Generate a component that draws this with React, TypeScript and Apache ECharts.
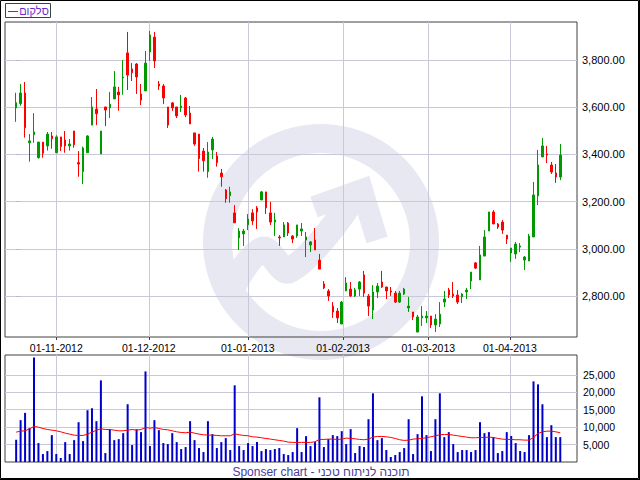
import React, { useEffect, useRef } from 'react';
import * as echarts from 'echarts';

// ---- Data ----
const opens = [
  3597, 3615, 3660, 3449, 3483, 3386, 3452, 3436, 3478, 3407,
  3474, 3461, 3436, 3499, 3365, 3327, 3407, 3524, 3592, 3402,
  3601, 3597, 3635, 3664, 3724, 3830, 3762, 3783, 3656, 3669,
  3834, 3897, 3698, 3690, 3601, 3618, 3601, 3597, 3639, 3575,
  3491, 3486, 3414, 3327, 3419, 3393, 3321, 3249, 3225, 3152,
  3046, 3063, 3102, 3152, 3173, 3207, 3241, 3152, 3113, 3050,
  3050, 3109, 3054, 3054, 3075, 3037, 3016, 3037, 2952, 2851,
  2821, 2757, 2736, 2681, 2821, 2829, 2800, 2829, 2889, 2800,
  2740, 2817, 2859, 2838, 2821, 2812, 2774, 2808, 2749, 2732,
  2647, 2707, 2707, 2715, 2677, 2681, 2774, 2825, 2808, 2804,
  2796, 2817, 2863, 2940, 2868, 2969, 3075, 3156, 3105, 3113,
  3058, 2982, 2978, 3007, 2952, 2948, 3050, 3224, 3389, 3402,
  3355, 3321, 3304,
];
const closes = [
  3619, 3660, 3513, 3457, 3495, 3452, 3405, 3486, 3466, 3474,
  3433, 3436, 3444, 3441, 3359, 3427, 3478, 3601, 3572, 3499,
  3588, 3613, 3686, 3652, 3728, 3736, 3746, 3728, 3630, 3787,
  3906, 3796, 3690, 3639, 3524, 3597, 3563, 3605, 3567, 3529,
  3444, 3382, 3373, 3410, 3465, 3365, 3305, 3212, 3241, 3110,
  3075, 3075, 3126, 3118, 3156, 3241, 3173, 3113, 3122, 3046,
  3101, 3067, 3041, 3101, 3084, 3050, 3029, 2995, 2914, 2834,
  2800, 2732, 2707, 2774, 2855, 2800, 2825, 2859, 2812, 2757,
  2817, 2842, 2838, 2821, 2817, 2774, 2812, 2829, 2757, 2711,
  2711, 2715, 2715, 2677, 2702, 2723, 2787, 2804, 2800, 2774,
  2808, 2825, 2901, 2918, 2974, 3050, 3156, 3105, 3092, 3079,
  3041, 3003, 3020, 3012, 2965, 3054, 3228, 3355, 3436, 3397,
  3325, 3304, 3397,
];
const lows = [
  3538, 3606, 3471, 3369, 3449, 3382, 3386, 3416, 3424, 3405,
  3414, 3407, 3416, 3428, 3305, 3274, 3407, 3524, 3524, 3402,
  3520, 3554, 3635, 3585, 3653, 3673, 3711, 3656, 3609, 3669,
  3796, 3766, 3673, 3613, 3512, 3584, 3554, 3580, 3558, 3529,
  3436, 3327, 3327, 3301, 3380, 3348, 3263, 3195, 3195, 3110,
  2995, 3012, 3079, 3101, 3084, 3207, 3147, 3101, 3054, 3012,
  3050, 3054, 3024, 3046, 3054, 2965, 2986, 2995, 2914, 2829,
  2779, 2707, 2685, 2681, 2821, 2796, 2796, 2800, 2796, 2715,
  2702, 2791, 2834, 2787, 2800, 2770, 2770, 2804, 2732, 2698,
  2647, 2673, 2685, 2664, 2647, 2668, 2753, 2791, 2791, 2766,
  2770, 2787, 2829, 2914, 2868, 2969, 3075, 3105, 3084, 3063,
  3020, 2944, 2957, 2986, 2910, 2948, 3050, 3185, 3389, 3363,
  3317, 3279, 3291,
];
const highs = [
  3661, 3698, 3707, 3486, 3575, 3452, 3452, 3495, 3495, 3481,
  3474, 3499, 3465, 3499, 3414, 3433, 3481, 3643, 3677, 3499,
  3601, 3664, 3753, 3686, 3800, 3919, 3787, 3787, 3698, 3838,
  3923, 3919, 3711, 3698, 3601, 3622, 3601, 3652, 3643, 3605,
  3491, 3486, 3427, 3452, 3474, 3410, 3338, 3253, 3263, 3185,
  3088, 3084, 3147, 3168, 3181, 3245, 3241, 3198, 3152, 3058,
  3113, 3113, 3058, 3101, 3109, 3071, 3033, 3088, 2978, 2863,
  2829, 2774, 2749, 2779, 2880, 2859, 2834, 2863, 2906, 2808,
  2846, 2855, 2906, 2838, 2838, 2821, 2821, 2834, 2796, 2732,
  2719, 2757, 2736, 2715, 2723, 2774, 2821, 2834, 2859, 2825,
  2812, 2834, 2901, 2944, 3012, 3079, 3156, 3164, 3109, 3122,
  3058, 3003, 3029, 3024, 2969, 3063, 3283, 3419, 3469, 3436,
  3368, 3359, 3444,
];
const volumes = [
  6380, 12000, 14090, 9710, 29990, 5430, 2285, 3140, 7710, 2285,
  1140, 5710, 2285, 6280, 11420, 6000, 14850, 15420, 11710, 23420,
  2570, 9425, 6280, 6570, 8280, 16560, 4855, 9425, 8570, 25990,
  4570, 12000, 9140, 5430, 5140, 8280, 5710, 3710, 4285, 11710,
  6280, 4000, 2855, 11710, 8000, 4000, 5710, 6855, 3430, 22000,
  4570, 3430, 5430, 4570, 5710, 3140, 3710, 3430, 3710, 4000,
  2285, 2000, 2855, 9710, 2855, 7425, 4570, 5710, 18560, 4285,
  6570, 7710, 7425, 8855, 5140, 9425, 2570, 4570, 4285, 12280,
  19700, 6280, 6855, 3430, 1430, 2000, 2855, 4000, 12280, 2285,
  8000, 18850, 7710, 3140, 12280, 19700, 7140, 8570, 5140, 2855,
  3430, 3430, 2855, 3430, 11420, 8280, 8570, 7140, 2570, 3140,
  8570, 7425, 5430, 3140, 2855, 7710, 23130, 22280, 16560, 7140,
  10570, 7140, 7140,
];
const volumeAvg = [
  8570, 8850, 8950, 9520, 10190, 10000, 9615, 9330, 9140, 8950,
  8660, 8280, 8000, 7710, 7620, 7620, 8000, 8570, 9140, 9520,
  9330, 9330, 9140, 8950, 8950, 9140, 9330, 9140, 9330, 9900,
  9710, 9900, 9615, 9330, 9235, 8950, 8660, 8470, 8380, 8570,
  8280, 8000, 7810, 7710, 7710, 7620, 7520, 7520, 7520, 8090,
  7810, 7620, 7520, 7235, 7140, 6950, 6760, 6570, 6380, 6190,
  6000, 5710, 5620, 5620, 5620, 5620, 5620, 5810, 6470, 6470,
  6570, 6570, 6470, 6570, 6855, 6760, 6660, 6470, 6380, 6570,
  7140, 7330, 7330, 7235, 7045, 6760, 6380, 6190, 6280, 6570,
  6660, 6760, 6950, 7235, 7520, 7810, 7900, 7900, 7710, 7520,
  7330, 7140, 6950, 6950, 7045, 7045, 7140, 7045, 6760, 6570,
  6470, 6470, 6380, 6380, 6280, 6280, 7045, 8190, 8660, 8850,
  8850, 8660, 8380,
];
const monthPositions = [9, 29.75, 51.95, 73.3, 92.4, 110.7];
const monthLabels = ['01-11-2012', '01-12-2012', '01-01-2013', '01-02-2013', '01-03-2013', '01-04-2013'];
const priceTicks = [2800, 3000, 3200, 3400, 3600, 3800];
const volumeTicks = [5000, 10000, 15000, 20000, 25000];
const legendName = 'סלקום';
const footerText = 'Sponser chart - תוכנה לניתוח טכני';

const FONT = 'Liberation Sans, Arial, sans-serif';
const GRID_COLOR = '#c8c8d8';
const BORDER_COLOR = '#404040';
const WM = '#e8e8f2';
const LEGEND_COLOR = '#6a2ccc';

export default function App() {
  const ref = useRef<HTMLDivElement>(null);

  useEffect(() => {
    if (!ref.current) return;
    const chart = echarts.init(ref.current, null, { renderer: 'svg' });

    const candleData = opens.map((o, i) => [i, o, closes[i], lows[i], highs[i]]);
    const volData = volumes.map((v, i) => [i, v]);
    const avgData = volumeAvg.map((v, i) => [i, v]);

    const monthFormatter = (v: number) => {
      let best = 0;
      let bd = Infinity;
      monthPositions.forEach((p, i) => {
        const d = Math.abs(p - v);
        if (d < bd) { bd = d; best = i; }
      });
      return monthLabels[best];
    };

    const xCommon = {
      type: 'value',
      min: -2.5,
      max: 125.75,
      axisLine: { show: false },
    };

    chart.setOption({
      animation: false,
      backgroundColor: '#ffffff',
      grid: [
        { left: 5, top: 22, width: 572, height: 315, show: true, borderColor: BORDER_COLOR, borderWidth: 1, backgroundColor: 'transparent', outerBoundsMode: 'none', containLabel: false },
        { left: 5, top: 355, width: 572, height: 107, show: true, borderColor: BORDER_COLOR, borderWidth: 1, backgroundColor: 'transparent', outerBoundsMode: 'none', containLabel: false },
      ],
      xAxis: [
        {
          ...xCommon,
          gridIndex: 0,
          position: 'bottom',
          axisTick: { show: true, length: 3, customValues: monthPositions, lineStyle: { color: BORDER_COLOR } },
          axisLabel: { show: true, customValues: monthPositions, formatter: monthFormatter, color: '#000', fontFamily: FONT, fontSize: 10.5, margin: 5 },
          splitLine: { show: true, lineStyle: { color: GRID_COLOR, width: 1 } },
        },
        {
          ...xCommon,
          gridIndex: 1,
          axisTick: { show: false, customValues: monthPositions },
          axisLabel: { show: false, customValues: monthPositions },
          splitLine: { show: true, lineStyle: { color: GRID_COLOR, width: 1 } },
        },
      ],
      yAxis: [
        {
          type: 'value',
          gridIndex: 0,
          position: 'right',
          min: 2626,
          max: 3961,
          axisLine: { show: false },
          axisTick: { show: true, length: 4, customValues: priceTicks, lineStyle: { color: '#b8b8c8' } },
          axisLabel: {
            customValues: priceTicks,
            formatter: (v: number) => v.toLocaleString('en-US', { minimumFractionDigits: 2, maximumFractionDigits: 2 }),
            color: '#000', fontFamily: FONT, fontSize: 11, margin: 5,
          },
          splitLine: { show: true, lineStyle: { color: GRID_COLOR, width: 1 } },
        },
        {
          type: 'value',
          gridIndex: 1,
          position: 'right',
          min: 0,
          max: 30700,
          axisLine: { show: false },
          axisTick: { show: false, customValues: volumeTicks },
          axisLabel: {
            customValues: volumeTicks,
            formatter: (v: number) => v.toLocaleString('en-US'),
            color: '#000', fontFamily: FONT, fontSize: 10.5, margin: 6,
          },
          splitLine: { show: true, lineStyle: { color: GRID_COLOR, width: 1 } },
        },
      ],
      series: [
        {
          type: 'candlestick',
          xAxisIndex: 0,
          yAxisIndex: 0,
          data: candleData,
          encode: { x: 0, y: [1, 2, 3, 4] },
          barWidth: 2,
          itemStyle: {
            color: '#009a00',
            color0: '#ff0000',
            borderColor: '#009a00',
            borderColor0: '#ff0000',
            borderWidth: 1,
          },
          z: 3,
        },
        {
          type: 'bar',
          xAxisIndex: 1,
          yAxisIndex: 1,
          data: volData,
          barWidth: 2,
          itemStyle: { color: '#0000cc' },
          z: 3,
        },
        {
          type: 'line',
          xAxisIndex: 1,
          yAxisIndex: 1,
          data: avgData,
          symbol: 'none',
          lineStyle: { color: '#ff0000', width: 1 },
          z: 4,
        },
      ],
      graphic: [
        // watermark
        { type: 'ring', silent: true, z: -5, shape: { cx: 321, cy: 242, r: 118, r0: 89 }, style: { fill: WM } },
        { type: 'polyline', silent: true, z: -5, shape: { points: [[230, 292], [262, 250], [290, 270], [352, 200]], smooth: 0.4 }, style: { stroke: WM, lineWidth: 26, fill: null } },
        { type: 'polyline', silent: true, z: -5, shape: { points: [[314, 207], [362, 190], [377, 240]] }, style: { stroke: WM, lineWidth: 22, fill: null, lineJoin: 'miter' } },
        // legend box
        { type: 'rect', z: 10, shape: { x: 5.5, y: 3.5, width: 45, height: 14 }, style: { fill: '#fff', stroke: BORDER_COLOR, lineWidth: 1 } },
        { type: 'line', z: 11, shape: { x1: 8, y1: 11.5, x2: 18, y2: 11.5 }, style: { stroke: LEGEND_COLOR, lineWidth: 1 } },
        { type: 'text', z: 11, x: 34, y: 11, style: { text: legendName, fill: LEGEND_COLOR, font: `11px ${FONT}`, textVerticalAlign: 'middle', textAlign: 'center' } },
        // footer
        { type: 'text', z: 11, x: 321, y: 471.5, style: { text: footerText, fill: '#4b3c9e', font: `12px ${FONT}`, textAlign: 'center', textVerticalAlign: 'middle' } },
        // outer frame
        { type: 'rect', z: 12, silent: true, shape: { x: 0.5, y: 0.5, width: 638, height: 478 }, style: { fill: null, stroke: '#000', lineWidth: 1 } },
        { type: 'line', z: 12, silent: true, shape: { x1: 639.5, y1: 0, x2: 639.5, y2: 480 }, style: { stroke: '#000', lineWidth: 1 } },
        { type: 'line', z: 12, silent: true, shape: { x1: 0, y1: 479.5, x2: 640, y2: 479.5 }, style: { stroke: '#000', lineWidth: 1 } },
      ],
    });

    return () => chart.dispose();
  }, []);

  return (
    <div
      ref={ref}
      style={{ position: 'fixed', left: 0, top: 0, width: 640, height: 480, background: '#ffffff' }}
    />
  );
}
